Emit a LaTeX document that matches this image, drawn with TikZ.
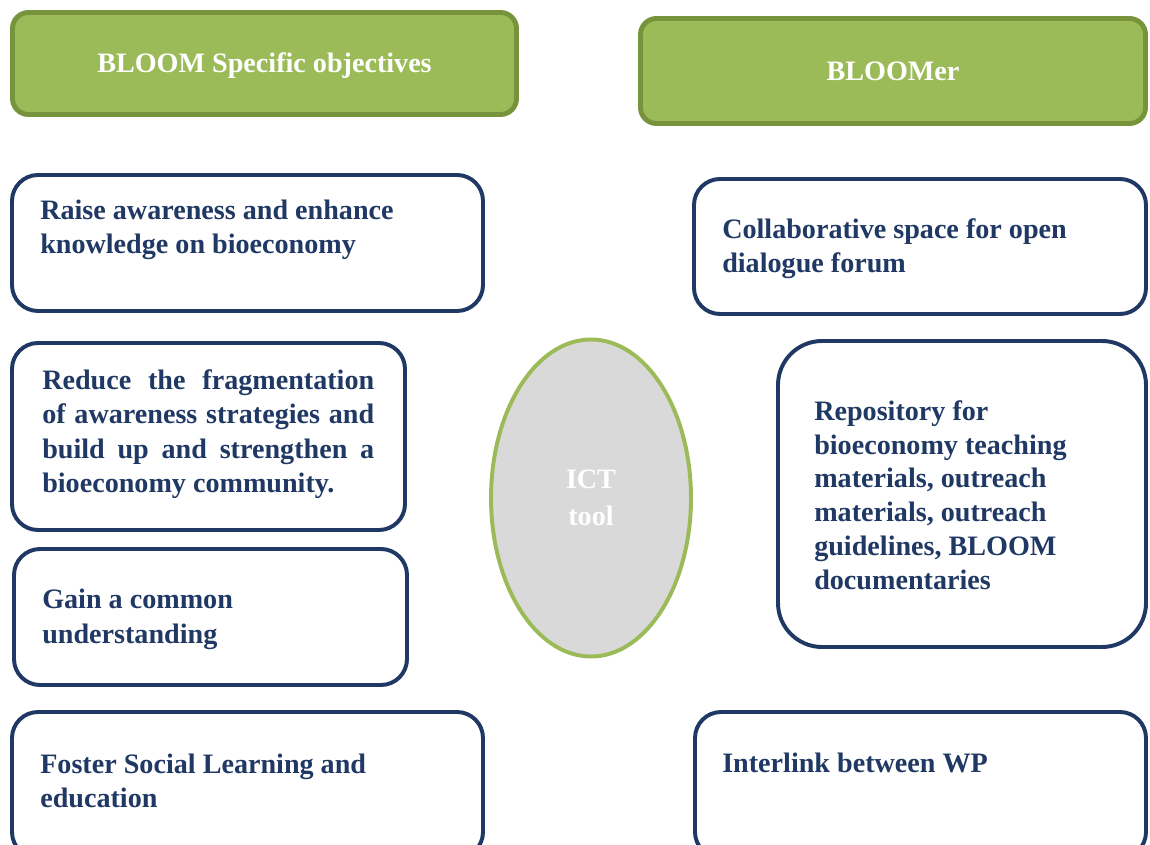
\documentclass[tikz,border=0pt]{standalone}
\usepackage{fontspec}
\setmainfont{Liberation Serif}
\usepackage{tikz}
\usetikzlibrary{shapes.geometric}
\usepackage{xcolor}
\definecolor{headgreen}{HTML}{9BBB59}
\definecolor{headedge}{HTML}{77933C}
\definecolor{navy}{HTML}{1F3864}
\definecolor{ictgray}{HTML}{D9D9D9}
\newcommand{\pxu}{0.025cm}

\begin{document}
\begin{tikzpicture}[x=0.025cm, y=-0.025cm,
    headbox/.style={draw=headedge, fill=headgreen, line width=3.5pt, rounded corners=0.4cm, inner sep=0pt,
        text=white, font=\bfseries\fontsize{20}{24.5}\selectfont},
    objbox/.style={draw=navy, fill=white, line width=2.8pt, rounded corners=0.65cm, inner sep=0pt},
    objtext/.style={text=navy, font=\bfseries\fontsize{20}{24.5}\selectfont, anchor=west, inner sep=0pt, align=left}]
        \clip (0,0) rectangle (1150,845);
        % headers
        \node[headbox, text height=18pt, text depth=4.5pt, minimum width=504*\pxu, minimum height=102*\pxu] (hdobj) at (264.5,63.5) {BLOOM Specific objectives};
        \node[headbox, minimum width=505*\pxu, minimum height=105*\pxu] (hdmer) at (893,71) {BLOOMer};
        % objectives
        \node[objbox, minimum width=471*\pxu, minimum height=136*\pxu] (raise) at (247.5,243) {};
        \node[objbox, minimum width=393*\pxu, minimum height=187*\pxu] (reduce) at (208.5,436.5) {};
        \node[objbox, minimum width=393*\pxu, minimum height=136*\pxu] (gain) at (210.5,617) {};
        \node[objbox, minimum width=471*\pxu, minimum height=146*\pxu] (foster) at (247.5,785) {};
        \node[objtext] (raisetxt) at (40,230) {Raise awareness and enhance\\knowledge on bioeconomy};
        \node[objtext, text width=332*\pxu, align=justify] (reducetxt) at (42,434) {Reduce the fragmentation\linebreak of awareness strategies and\linebreak build up and strengthen a\linebreak bioeconomy community.};
        \node[objtext] (gaintxt) at (42,619.5) {Gain a common\\understanding};
        \node[objtext] (fostertxt) at (40,781) {Foster Social Learning and\\education};
        % BLOOMer features
        \node[objbox, minimum width=452*\pxu, minimum height=135*\pxu] (collab) at (920,246.5) {};
        \node[objbox, rounded corners=1.1cm, minimum width=368*\pxu, minimum height=306*\pxu] (repo) at (962,494) {};
        \node[objbox, minimum width=451*\pxu, minimum height=146*\pxu] (interlink) at (920.5,785) {};
        \node[objtext] (collabtxt) at (722,248.5) {Collaborative space for open\\dialogue forum};
        \node[objtext, font=\bfseries\fontsize{20}{24}\selectfont] (repotxt) at (814,495) {Repository for\\bioeconomy teaching\\materials, outreach\\materials, outreach\\guidelines, BLOOM\\documentaries};
        \node[objtext] (interlinktxt) at (722,763) {Interlink between WP};
        % ICT tool
        \node[ellipse, draw=headgreen, fill=ictgray, line width=2.8pt, minimum width=200*\pxu, minimum height=317*\pxu,
            text=white, font=\bfseries\fontsize{20}{26.5}\selectfont, align=center] (ict) at (591,498) {ICT\\tool};
\end{tikzpicture}
\end{document}
